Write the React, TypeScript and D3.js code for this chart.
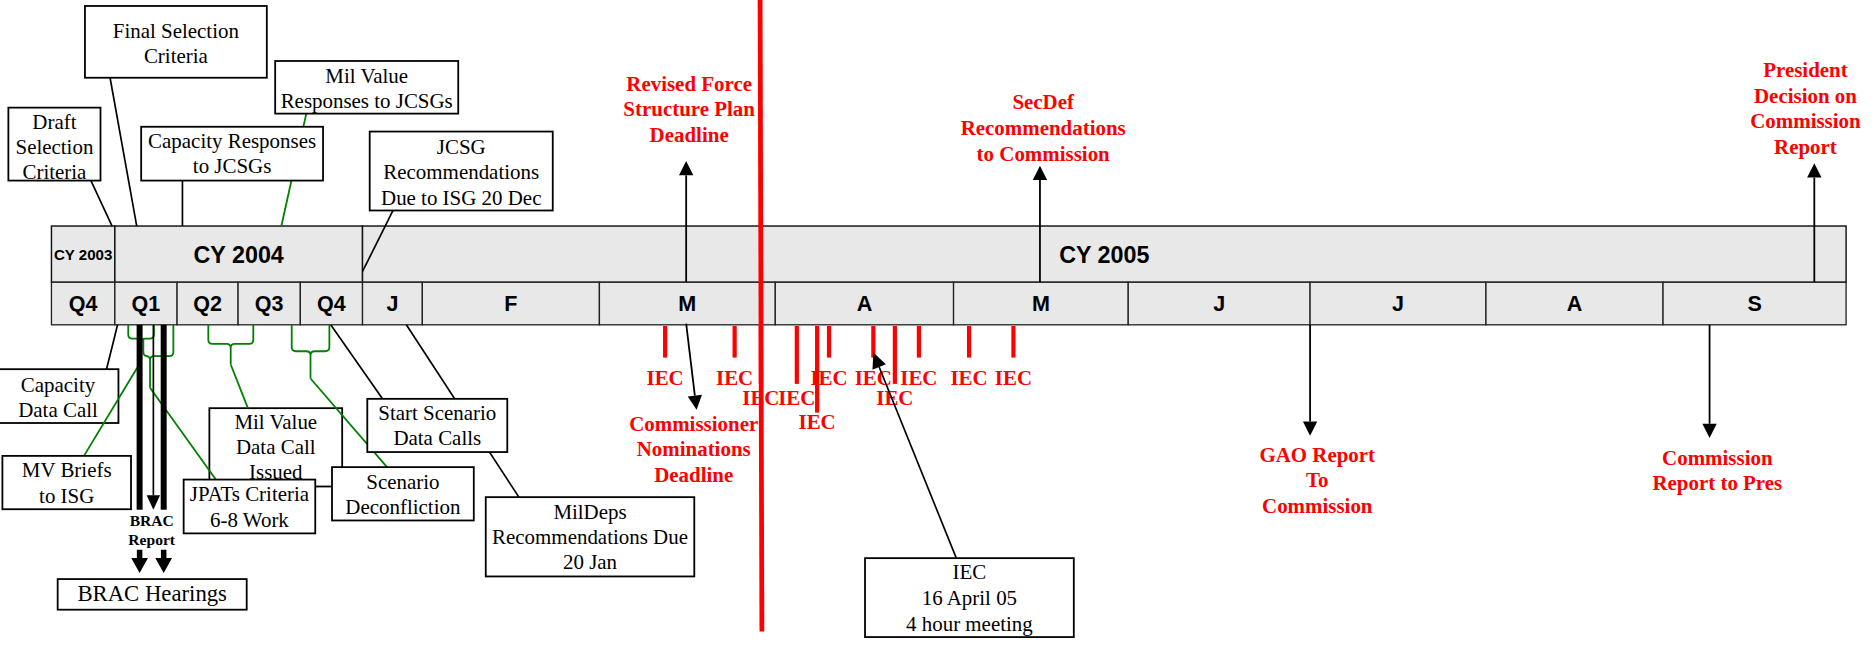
import * as d3 from 'd3';
import React, { useEffect, useRef } from 'react';

const day = (y: number, m: number, dd: number, h = 0) => new Date(y, m - 1, dd, h);

// ---- timeline cells
const yearLabels = ['CY 2003', 'CY 2004', 'CY 2005'];
const yearBounds = [day(2003, 10, 1), day(2004, 1, 1), day(2005, 1, 1), day(2005, 10, 1)];
const periodLabels = ['Q4', 'Q1', 'Q2', 'Q3', 'Q4', 'J', 'F', 'M', 'A', 'M', 'J', 'J', 'A', 'S'];
const periodBounds = [
    day(2003, 10, 1), day(2004, 1, 1), day(2004, 4, 1), day(2004, 7, 1), day(2004, 10, 1),
    day(2005, 1, 1), day(2005, 2, 1), day(2005, 3, 1), day(2005, 4, 1), day(2005, 5, 1),
    day(2005, 6, 1), day(2005, 7, 1), day(2005, 8, 1), day(2005, 9, 1), day(2005, 10, 1)
];

// ---- callout boxes tied to a date on the bar
const topNotes = [
    { id: 'draft', lines: ['Draft', 'Selection', 'Criteria'], date: day(2003, 12, 28) },
    { id: 'finalSel', lines: ['Final Selection', 'Criteria'], date: day(2004, 2, 2) },
    { id: 'mvResp', lines: ['Mil Value', 'Responses to JCSGs'], date: day(2004, 9, 3) },
    { id: 'capResp', lines: ['Capacity Responses', 'to JCSGs'], date: day(2004, 4, 9) },
    { id: 'jcsg', lines: ['JCSG', 'Recommendations', 'Due to ISG 20 Dec'], date: day(2005, 1, 1) },
];
const bottomNotes = [
    { id: 'capCall', lines: ['Capacity', 'Data Call'], date: day(2004, 1, 5) },
    { id: 'scenCall', lines: ['Start Scenario', 'Data Calls'], date: day(2004, 11, 15) },
    { id: 'milDeps', lines: ['MilDeps', 'Recommendations Due', '20 Jan'], date: day(2005, 1, 23, 17) },
];
// notes hanging from a green brace spanning a date range
const braceNotes = [
    { id: 'mvBriefs', lines: ['MV Briefs', 'to ISG'], from: day(2004, 1, 20, 14), to: day(2004, 2, 27, 5), stem: day(2004, 2, 8, 10) },
    { id: 'jpats', lines: ['JPATs Criteria', '6-8 Work'], from: day(2004, 2, 11, 16), to: day(2004, 3, 26, 14), stem: day(2004, 2, 21, 11) },
    { id: 'mvCall', lines: ['Mil Value', 'Data Call', 'Issued'], from: day(2004, 5, 17, 14), to: day(2004, 7, 23, 12), stem: day(2004, 6, 20) },
    { id: 'scenDecon', lines: ['Scenario', 'Deconfliction'], from: day(2004, 9, 18, 7), to: day(2004, 11, 13), stem: day(2004, 10, 16, 2) },
];

// ---- BRAC report to congress
const bracReportDates = [day(2004, 2, 6, 5), day(2004, 3, 12, 10)];
const bracReportArrowDate = day(2004, 2, 26, 8);

// ---- IEC meetings
const iecDates = [
    day(2005, 3, 12, 14), day(2005, 3, 24, 20), day(2005, 3, 29, 11), day(2005, 4, 4, 15),
    day(2005, 4, 8, 1), day(2005, 4, 10, 1), day(2005, 4, 17, 12), day(2005, 4, 21, 3),
    day(2005, 4, 25, 4), day(2005, 5, 3, 18), day(2005, 5, 11, 15)
];
const iecRows = [0, 0, 1, 1, 2, 0, 0, 1, 0, 0, 0];
const iecHighlight = 6; // 16 April meeting
const iecBoxLines = ['IEC', '16 April 05', '4 hour meeting'];

// ---- red milestones
const milestoneLabels = [
    ['Revised Force', 'Structure Plan', 'Deadline'],
    ['SecDef', 'Recommendations', 'to Commission'],
    ['President', 'Decision on', 'Commission', 'Report'],
    ['Commissioner', 'Nominations', 'Deadline'],
    ['GAO Report', 'To', 'Commission'],
    ['Commission', 'Report to Pres'],
];
const milestoneDates = [
    day(2005, 3, 16, 7), day(2005, 5, 16, 8), day(2005, 9, 25, 19),
    day(2005, 3, 16, 7), day(2005, 7, 1), day(2005, 9, 8, 15)
];

// ---- layout (drawing units of a 1568 x 541 canvas)
const VW = 1568, VH = 541;
const barLeft = 43;
const cellWidths = [53, 52, 51, 52, 52, 50, 148, 147, 149, 146, 152, 147, 148, 153];
const barTop = 189, barMid = 236, barBot = 271.6;
const SERIF = "'Liberation Serif', 'Times New Roman', serif";
const SANS = "'Liberation Sans', Arial, sans-serif";
const RED = '#ff0000';
const GREEN = '#008000';

const boxes = {
    draft: { x: 7, y: 90, w: 77, h: 61, pad: 18, ax: 76 },
    finalSel: { x: 71, y: 5, w: 152, h: 60, pad: 27, ax: 92 },
    mvResp: { x: 230, y: 51, w: 153, h: 44, pad: 18, ax: 256 },
    capResp: { x: 118, y: 106, w: 152, h: 45, pad: 18, ax: null },
    jcsg: { x: 309, y: 110, w: 153, h: 66, pad: 19, ax: 328.5, ay: 227 },
    capCall: { x: -2, y: 308.7, w: 101, h: 45, pad: 18.7, ax: 89 },
    scenCall: { x: 307, y: 333.5, w: 117, h: 44.5, pad: 18, ax: 319.7 },
    milDeps: { x: 406, y: 415.7, w: 174.3, h: 66.3, pad: 18.4, ax: 433.7 },
    mvBriefs: { x: 2, y: 381.2, w: 107.5, h: 44.6, pad: 18, ax: 70.2 },
    jpats: { x: 153.5, y: 401, w: 110, h: 45, pad: 18.3, ax: 180.4 },
    mvCall: { x: 175, y: 341.3, w: 111, h: 65.5, pad: 17.6, ax: 207.2 },
    scenDecon: { x: 277.5, y: 390.6, w: 118.5, h: 44.6, pad: 18.4, ax: 323.5 },
    iec: { x: 723, y: 466.7, w: 174.5, h: 66, pad: 17.6, ax: 799.3 },
};
const braceGeom = {
    mvBriefs: { leftTop: barBot, depth: 283.1, end: 302 },
    jpats: { leftTop: 283.1, depth: 297.8, end: 324.3 },
    mvCall: { leftTop: barBot, depth: 287.5, end: 304.8 },
    scenDecon: { leftTop: barBot, depth: 293.7, end: 316.5 },
};
// label placement per milestone: arrow tip y, label dx, first baseline, arrow start dx/dy
const milestoneGeom = [
    { tip: 134.6, from: barMid, dx: 2.5, base: 76 },
    { tip: 138.5, from: barMid, dx: 2.7, base: 91.5 },
    { tip: 136.5, from: barMid, dx: -7.4, base: 64.6 },
    { tip: 342.7, from: barBot - 1, dx: 6.3, base: 360, tipDx: 8.7 },
    { tip: 364.4, from: barBot, dx: 6, base: 386 },
    { tip: 366.3, from: barBot, dx: 6.5, base: 388.6 },
];
const iecLabelBase = [322, 339, 359];
const iecTickEnd = [299, 321, 345];

function arrow(g, x1, y1, x2, y2, len = 12, hw = 6, color = '#000', sw = 1.5) {
    const a = Math.atan2(y2 - y1, x2 - x1);
    const bx = x2 - len * Math.cos(a), by = y2 - len * Math.sin(a);
    g.append('line').attr('x1', x1).attr('y1', y1).attr('x2', bx).attr('y2', by)
        .attr('stroke', color).attr('stroke-width', sw);
    const px = -Math.sin(a) * hw, py = Math.cos(a) * hw;
    g.append('path')
        .attr('d', `M${x2},${y2}L${bx + px},${by + py}L${bx - px},${by - py}Z`)
        .attr('fill', color);
}

function drawBox(g, b, lines, fs = 17.5, lh = 21) {
    g.append('rect').attr('x', b.x).attr('y', b.y).attr('width', b.w).attr('height', b.h)
        .attr('fill', '#fff').attr('stroke', '#000').attr('stroke-width', 1.5);
    const t = g.append('text').attr('text-anchor', 'middle')
        .attr('font-family', SERIF).attr('font-size', fs).attr('fill', '#000');
    lines.forEach((l, i) => {
        t.append('tspan').attr('x', b.x + b.w / 2).attr('y', b.y + b.pad + i * lh).text(l);
    });
}

function bracePath(x1, x2, xm, yl, yr, yd, ye, r = 4) {
    return `M${x1},${yl} L${x1},${yd - r} Q${x1},${yd} ${x1 + r},${yd} L${xm - r},${yd} ` +
        `Q${xm},${yd} ${xm},${yd + r} L${xm},${ye} M${xm},${yd + r} Q${xm},${yd} ${xm + r},${yd} ` +
        `L${x2 - r},${yd} Q${x2},${yd} ${x2},${yd - r} L${x2},${yr}`;
}

const App = () => {
    const ref = useRef(null);

    useEffect(() => {
        const svg = d3.select(ref.current);
        svg.selectAll('*').remove();

        const bounds = [barLeft];
        cellWidths.forEach(w => bounds.push(bounds[bounds.length - 1] + w));
        const x = d3.scaleTime().domain(periodBounds).range(bounds);

        svg.append('rect').attr('width', VW).attr('height', VH).attr('fill', '#fff');
        const g = svg.append('g');

        // ---- bar
        yearLabels.forEach((lab, i) => {
            const x0 = x(yearBounds[i]), x1 = x(yearBounds[i + 1]);
            g.append('rect').attr('x', x0).attr('y', barTop).attr('width', x1 - x0).attr('height', barMid - barTop)
                .attr('fill', '#e8e8e8').attr('stroke', '#111').attr('stroke-width', 1.2);
            g.append('text').attr('x', (x0 + x1) / 2).attr('y', (barTop + barMid) / 2)
                .attr('dy', '0.36em').attr('text-anchor', 'middle')
                .attr('font-family', SANS).attr('font-weight', 'bold')
                .attr('font-size', i === 0 ? 12.6 : 19.5).text(lab);
        });
        periodLabels.forEach((lab, i) => {
            const x0 = x(periodBounds[i]), x1 = x(periodBounds[i + 1]);
            g.append('rect').attr('x', x0).attr('y', barMid).attr('width', x1 - x0).attr('height', barBot - barMid)
                .attr('fill', '#e8e8e8').attr('stroke', '#222').attr('stroke-width', 1.1);
            g.append('text').attr('x', (x0 + x1) / 2).attr('y', (barMid + barBot) / 2)
                .attr('dy', '0.36em').attr('text-anchor', 'middle')
                .attr('font-family', SANS).attr('font-weight', 'bold')
                .attr('font-size', 18).text(lab);
        });

        // ---- top callouts
        topNotes.forEach(n => {
            const b = boxes[n.id];
            const tx = x(n.date);
            const green = n.id === 'mvResp';
            if (green) {
                g.append('line').attr('x1', b.ax).attr('y1', b.y + b.h).attr('x2', tx).attr('y2', barTop)
                    .attr('stroke', GREEN).attr('stroke-width', 1.5);
            }
        });
        topNotes.forEach(n => {
            const b = boxes[n.id];
            const tx = x(n.date);
            if (n.id !== 'mvResp') {
                const ax = b.ax == null ? tx : b.ax;
                g.append('line').attr('x1', ax).attr('y1', b.y + b.h).attr('x2', tx).attr('y2', b.ay || barTop)
                    .attr('stroke', '#000').attr('stroke-width', 1.4);
            }
            drawBox(g, b, n.lines);
        });

        // ---- lower callouts
        bottomNotes.forEach(n => {
            const b = boxes[n.id];
            g.append('line').attr('x1', b.ax).attr('y1', b.y).attr('x2', x(n.date)).attr('y2', barBot)
                .attr('stroke', '#000').attr('stroke-width', 1.4);
        });
        drawBox(g, boxes.capCall, bottomNotes[0].lines);
        drawBox(g, boxes.mvCall, braceNotes[2].lines);

        // braces
        braceNotes.forEach(n => {
            const bg = braceGeom[n.id];
            const x1 = x(n.from), x2 = x(n.to), xm = x(n.stem);
            g.append('path').attr('d', bracePath(x1, x2, xm, bg.leftTop, barBot, bg.depth, bg.end, 3.5))
                .attr('fill', 'none').attr('stroke', GREEN).attr('stroke-width', 1.5);
            const b = boxes[n.id];
            g.append('line').attr('x1', xm).attr('y1', bg.end).attr('x2', b.ax).attr('y2', b.y)
                .attr('stroke', GREEN).attr('stroke-width', 1.5);
        });

        // BRAC report bars
        bracReportDates.forEach(dt => {
            g.append('rect').attr('x', x(dt) - 2.5).attr('y', barBot).attr('width', 5).attr('height', 426.2 - barBot)
                .attr('fill', '#000');
        });
        arrow(g, x(bracReportArrowDate), barBot, x(bracReportArrowDate), 426.2, 12, 5.6, '#000', 1.4);

        drawBox(g, boxes.scenCall, bottomNotes[1].lines);
        drawBox(g, boxes.milDeps, bottomNotes[2].lines);
        drawBox(g, boxes.mvBriefs, braceNotes[0].lines);
        drawBox(g, boxes.jpats, braceNotes[1].lines);
        drawBox(g, boxes.scenDecon, braceNotes[3].lines);

        // BRAC report label + hearings
        const bracX = x(bracReportArrowDate) - 1.4;
        const brac = g.append('text').attr('text-anchor', 'middle').attr('font-family', SERIF)
            .attr('font-weight', 'bold').attr('font-size', 13);
        brac.append('tspan').attr('x', bracX).attr('y', 440.2).text('BRAC');
        brac.append('tspan').attr('x', bracX).attr('y', 456).text('Report');
        bracReportDates.forEach(dt => {
            const cx = x(dt);
            g.append('path')
                .attr('d', `M${cx - 2.3},459.7 L${cx + 2.3},459.7 L${cx + 2.3},466.6 L${cx + 7},466.6 L${cx},479.2 L${cx - 7},466.6 L${cx - 2.3},466.6 Z`)
                .attr('fill', '#000');
        });
        const hb = { x: 48.2, y: 484.2, w: 158, h: 25.6, pad: 18.6 };
        drawBox(g, hb, ['BRAC Hearings'], 19);

        // ---- IEC meetings
        iecDates.forEach((dt, i) => {
            g.append('text').attr('x', x(dt)).attr('y', iecLabelBase[iecRows[i]])
                .attr('text-anchor', 'middle').attr('font-family', SERIF).attr('font-weight', 'bold')
                .attr('font-size', 17.5).attr('fill', RED).text('IEC');
        });
        iecDates.forEach((dt, i) => {
            g.append('line').attr('x1', x(dt)).attr('x2', x(dt))
                .attr('y1', barBot + 1).attr('y2', iecTickEnd[iecRows[i]])
                .attr('stroke', RED).attr('stroke-width', 3.5);
        });

        // ---- red milestones
        milestoneLabels.forEach((lines, i) => {
            const m = milestoneGeom[i];
            const mx = x(milestoneDates[i]);
            const t = g.append('text').attr('text-anchor', 'middle').attr('font-family', SERIF)
                .attr('font-weight', 'bold').attr('font-size', 17.5).attr('fill', RED);
            lines.forEach((l, k) => {
                t.append('tspan').attr('x', mx + m.dx).attr('y', m.base + k * 21.4).text(l);
            });
            arrow(g, mx, m.from, mx + (m.tipDx || 0), m.tip, 12, 6, '#000', 1.5);
        });

        // IEC box
        const ib = boxes.iec;
        drawBox(g, ib, iecBoxLines, 17.5, 21.5);
        arrow(g, ib.ax, ib.y, x(iecDates[iecHighlight]), 294.8, 13, 6, '#000', 1.4);

        // red divider
        g.append('line').attr('x1', 635.3).attr('y1', 0).attr('x2', 636.8).attr('y2', 528)
            .attr('stroke', RED).attr('stroke-width', 4);
    }, []);

    return (
        <svg ref={ref} width={1876} height={647} viewBox={`0 0 ${VW} ${VH}`} preserveAspectRatio="none"
            style={{ position: 'absolute', left: 0, top: 0, display: 'block' }} />
    );
};

export default App;
